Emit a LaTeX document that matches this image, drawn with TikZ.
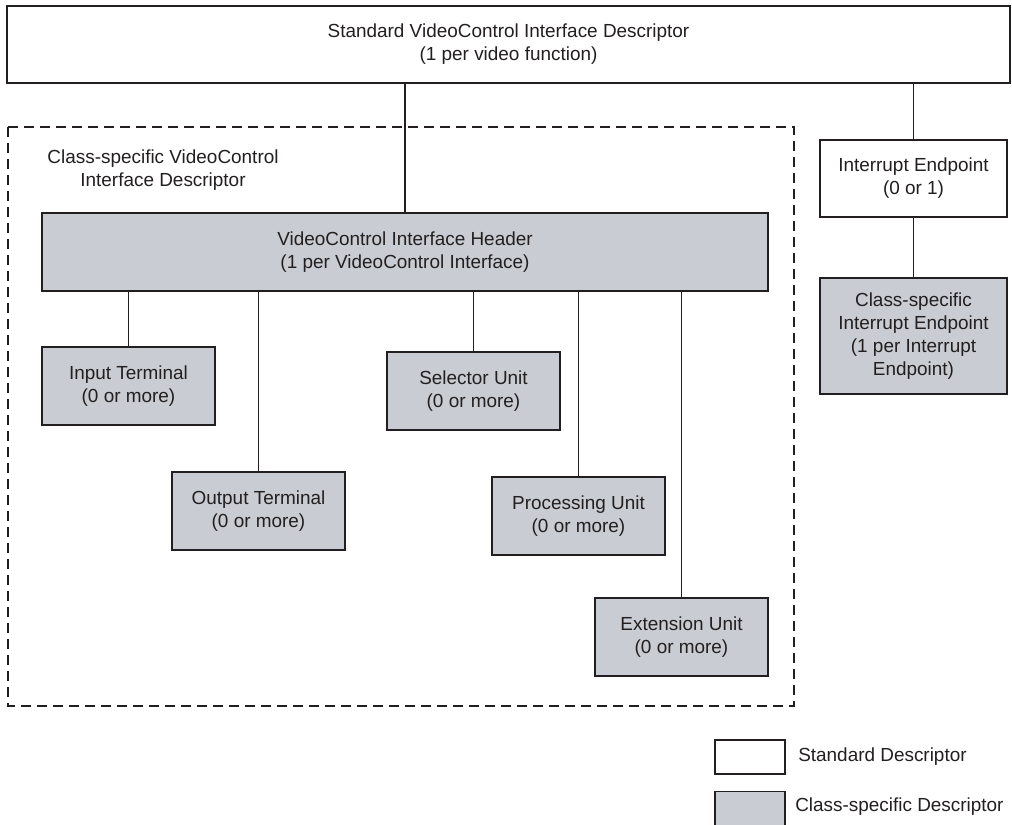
\documentclass[tikz,border=0pt]{standalone}
\usepackage{fontspec}
\setmainfont{Liberation Sans}
\definecolor{cs}{RGB}{201,204,211}
\definecolor{ink}{RGB}{35,31,32}
\begin{document}
\begin{tikzpicture}[x=0.75pt,y=-0.75pt,
  every node/.style={font=\fontsize{14.2}{17.25}\selectfont, text=ink, align=center, inner sep=0pt},
  sbox/.style={draw=ink, line width=1pt, fill=white, rectangle},
  gbox/.style={draw=ink, line width=1pt, fill=cs, rectangle},
  unitbox/.style={gbox, minimum width=129.75pt, minimum height=58.5pt},
  conn/.style={draw=ink, line width=0.8pt},
  grp/.style={draw=ink, line width=2.2pt, dash pattern=on 7.5pt off 4.5pt}]
\useasboundingbox (0,0) rectangle (1012,824);
\fill[white] (0,0) rectangle (1012,824);
% group frame
\draw[grp] (8,127) rectangle (794,706);
\node (grplabel) at (163,170.5) {Class-specific VideoControl\\Interface Descriptor};
% nodes
\node[sbox, minimum width=752.25pt, minimum height=57.75pt] (std) at (508.5,44.5)
  {Standard VideoControl Interface Descriptor\\(1 per video function)};
\node[gbox, minimum width=544.5pt, minimum height=58.5pt] (hdr) at (405,252)
  {VideoControl Interface Header\\(1 per VideoControl Interface)};
\node[sbox, minimum width=140.25pt, minimum height=57.75pt] (intep) at (913.5,178.5)
  {Interrupt Endpoint\\(0 or 1)};
\node[gbox, minimum width=140.25pt, minimum height=87pt] (csintep) at (913.5,336)
  {Class-specific\\Interrupt Endpoint\\(1 per Interrupt\\Endpoint)};
\node[unitbox] (it) at (128.5,386) {Input Terminal\\(0 or more)};
\node[unitbox] (ot) at (258.5,511) {Output Terminal\\(0 or more)};
\node[unitbox] (su) at (473.5,391) {Selector Unit\\(0 or more)};
\node[unitbox] (pu) at (578.5,516) {Processing Unit\\(0 or more)};
\node[unitbox] (xu) at (681.5,637) {Extension Unit\\(0 or more)};
% connectors
\draw[conn] (hdr.north |- std.south) -- (hdr.north);
\draw[conn] (intep.north |- std.south) -- (intep.north);
\draw[conn] (intep.south) -- (csintep.north);
\draw[conn] (it.north |- hdr.south) -- (it.north);
\draw[conn] (ot.north |- hdr.south) -- (ot.north);
\draw[conn] (su.north |- hdr.south) -- (su.north);
\draw[conn] (pu.north |- hdr.south) -- (pu.north);
\draw[conn] (xu.north |- hdr.south) -- (xu.north);
% legend
\node[sbox, minimum width=52.5pt, minimum height=25.5pt] (legstd) at (750,757) {};
\node[anchor=west] (legstdtxt) at (798,757) {Standard Descriptor};
\node[gbox, minimum width=52.5pt, minimum height=25.5pt] (legcs) at (750,808.5) {};
\node[anchor=west] (legcstxt) at (795,807) {Class-specific Descriptor};
\end{tikzpicture}
\end{document}
